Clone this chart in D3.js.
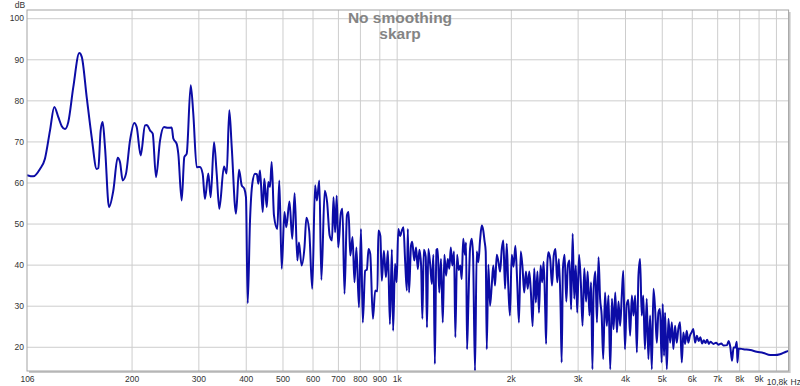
<!DOCTYPE html>
<html>
<head>
<meta charset="utf-8">
<script src="https://cdn.jsdelivr.net/npm/d3@7"></script>
<style>
  body { margin: 0; background: #fff; }
  svg { display: block; font-family: "Liberation Sans", Arial, sans-serif; }
</style>
</head>
<body>
<script>
const lowBand = [
  [106, 61.8], [110.1, 61.5], [114.7, 63.3], [118.2, 65.8], [121.9, 72.7], [125.1, 78.4],
  [128.2, 75.9], [130.9, 73.7], [133.5, 73.0], [136.2, 74.7], [140.4, 83.2], [145.6, 91.5],
  [147.8, 90.6], [152.3, 80.8], [157, 71], [161.8, 63.3], [163.4, 63.5], [165.8, 72.7],
  [167.8, 74.7], [170.2, 68.6], [174.4, 54], [179, 58], [183.8, 66], [186.4, 65],
  [189.5, 60.5], [193.3, 62.1], [198.1, 70.2], [203.3, 74.5], [206.3, 73.5], [211.4, 66.6],
  [217, 73.9], [219.6, 74], [223.7, 72.7], [227.4, 71.9], [232, 61.3], [237.7, 70.2],
  [243.5, 73.5], [249.5, 73.3], [255.2, 73.4], [257.7, 70.7], [263, 69.4], [265.6, 67],
  [271.1, 55.6], [275.5, 66.2], [279.5, 67], [286.4, 83.7], [290.9, 76.8], [297, 63.7],
  [303, 63.8], [308, 62.1], [312.3, 56], [318.7, 62.2], [323.3, 56.4], [329.9, 69.8],
  [335.3, 62.2], [340.7, 53.6], [350.5, 63.9], [356.3, 62.2], [362, 77.6], [367.3, 68.8],
  [377, 52.4], [384, 63.1], [390.3, 59.3], [396.5, 58.5], [400.6, 56.4], [404.8, 30.6],
  [410.5, 50.7], [416.3, 59.7], [423.1, 62.1], [428, 62], [431.7, 59.7], [436.2, 62.9],
  [443.4, 52.8], [447.7, 60.9], [454.3, 54], [458.7, 60.1], [463.5, 58.9], [468.2, 65],
  [474.8, 52], [484.5, 48.7], [490.4, 60.5], [497.6, 39]
];

const midBand = [
  [506, 52.8], [511.6, 49.1], [521.6, 55.4], [530.6, 46.3], [538.2, 57.4], [547.2, 41],
  [552.5, 45.4], [561.5, 39.8], [571.4, 44.2], [578.1, 51.4], [588, 48.3], [599, 34.1],
  [609.4, 59.3], [616.1, 55.6], [625.2, 60.5], [633.1, 36.3], [646.1, 58], [655.5, 55.2],
  [665.7, 47.1], [675.2, 45.9], [681.5, 56.4], [688.2, 47.9], [694.9, 56.8], [701.4, 44.2],
  [712.3, 52.4], [719.5, 53.6], [728.6, 32.9], [739.5, 52], [746.8, 52.8], [754.5, 42.2],
  [765, 46.7], [774.1, 35.7], [783.2, 44.2], [795.5, 29.6], [805.2, 48.7], [814, 25.9],
  [825.9, 38.5], [834.7, 38.8], [843, 43.8], [851.8, 42.6], [865.8, 26.8], [877.7, 33.7],
  [889.6, 33.5], [894.8, 48.3], [905.7, 47], [913.8, 36.1], [925.3, 43.4], [936.8, 36.9],
  [948.3, 43.4], [959.8, 25.5], [971.3, 43.7], [978.7, 23.9], [990.2, 40.2]
];

const kiloBand = [
  [1000, 35.7], [1010, 48.7], [1021, 47], [1032, 48.3], [1042, 49.1], [1053, 40.6],
  [1064, 33.7], [1070, 48.7], [1078, 33.2], [1091, 44.6], [1099, 45.6], [1113, 41],
  [1125, 44.2], [1137, 38.9], [1148, 43.6], [1160, 39.8], [1169, 26.8], [1179, 43.6],
  [1193, 41.9], [1202, 24.7], [1212, 43.8], [1227, 39.5], [1238, 35.3], [1250, 42.4],
  [1261, 15.8], [1273, 43.6], [1283, 43.8], [1295, 33.2], [1309, 41.4], [1323, 25.9],
  [1336, 42.4], [1350, 37.3], [1364, 41.4], [1377, 39], [1389, 44.2], [1402, 39.8],
  [1417, 43.2], [1428, 22.3], [1443, 42.4], [1458, 38.7], [1472, 39.8], [1484, 36.5],
  [1498, 46.3], [1514, 42.4], [1524, 45.4], [1533, 19.4], [1545, 30], [1561, 43.8],
  [1577, 46.3], [1590, 42.4], [1609, 14.1], [1626, 43.2], [1642, 40.6], [1659, 45.9],
  [1676, 49.5], [1692, 48.3], [1704, 45.9], [1717, 43.2], [1728, 19.4], [1745, 40],
  [1763, 30], [1781, 34.9], [1798, 39.8], [1817, 34.9], [1836, 42.4], [1854, 40.8],
  [1874, 38.3], [1893, 43.8], [1911, 45.9], [1931, 34.1], [1951, 45.1], [1969, 34.9],
  [1989, 27.6]
];

const trebleBand = [
  [2011, 42.4], [2033, 39.5], [2056, 44.6], [2079, 35.7], [2101, 25.9], [2124, 43.2],
  [2148, 39.1], [2169, 33.2], [2192, 38.3], [2216, 34.1], [2237, 38.3], [2260, 33],
  [2283, 25], [2305, 39.1], [2328, 30.8], [2351, 38.3], [2373, 28.3], [2396, 39.8],
  [2419, 35.7], [2441, 40.7], [2464, 29.1], [2478, 20.7], [2495, 39.8], [2512, 43],
  [2540, 41.4], [2568, 34.9], [2595, 42.2], [2623, 43.8], [2651, 35.7], [2678, 41.4],
  [2706, 29.1], [2723, 16.2], [2744, 39.1], [2772, 42.4], [2801, 31], [2828, 39.8],
  [2856, 41], [2884, 29.1], [2911, 47.5], [2939, 31.7], [2967, 39.8], [2993, 28.3],
  [3026, 42.4], [3059, 35.7], [3091, 25.1], [3124, 39.1], [3158, 31], [3189, 38.3],
  [3223, 27.6], [3256, 35.7], [3282, 14.5], [3307, 34.1], [3341, 38.3], [3374, 25.9],
  [3406, 41.8], [3439, 31.7], [3472, 27.6], [3505, 17], [3543, 33.2], [3582, 25.1],
  [3618, 32.5], [3657, 14.5], [3695, 31.7], [3732, 24.3], [3770, 33.2], [3809, 23.5],
  [3845, 31], [3884, 25.1], [3923, 32.5], [3959, 38.5], [3998, 19.4], [4041, 30.2],
  [4082, 31.4], [4126, 22.7], [4170, 32.5], [4211, 27.6], [4255, 32.5], [4299, 18.6],
  [4340, 37.3], [4384, 41.4], [4427, 27.6], [4469, 32.5], [4514, 19.4], [4564, 31.7],
  [4610, 17], [4659, 27.6], [4708, 14.5], [4754, 34.1], [4803, 29.1], [4852, 21],
  [4899, 28.3], [4948, 29.2], [4997, 16.2]
];

const airBand = [
  [5029, 30.4], [5070, 17.8], [5102, 28.3], [5156, 14.5], [5207, 26.8], [5261, 21],
  [5315, 26], [5366, 19.4], [5420, 25.1], [5475, 21], [5528, 24.3], [5587, 26],
  [5646, 16.2], [5701, 23.5], [5760, 20.7], [5819, 23.9], [5875, 21], [5934, 22.7],
  [5993, 23.5], [6055, 24.3], [6122, 21], [6190, 22.7], [6253, 21.4], [6320, 22.3],
  [6387, 20.8], [6454, 21.6], [6521, 20.9], [6588, 21.7], [6652, 20.7], [6719, 21.2],
  [6850, 20.7], [6953, 21], [7050, 20.5], [7173, 20.8], [7277, 20.3], [7432, 20.4],
  [7505, 21.4], [7582, 19.9], [7659, 16.6], [7732, 19.8], [7809, 19.8], [7886, 21.2],
  [7914, 16.2], [7977, 19.6], [8211, 19.4], [8557, 19.2], [8902, 18.8], [9270, 18.5],
  [9655, 18], [9943, 18], [10252, 18.2], [10630, 18.8], [10800, 19.0]
];

const xTickValues = [106, 200, 300, 400, 500, 600, 700, 800, 900, 1000, 2000, 3000, 4000, 5000, 6000, 7000, 8000, 9000];
const xTickLabels = ["106", "200", "300", "400", "500", "600", "700", "800", "900", "1k", "2k", "3k", "4k", "5k", "6k", "7k", "8k", "9k"];
const xGridValues = [200, 300, 400, 500, 600, 700, 800, 900, 1000, 2000, 3000, 4000, 5000, 6000, 7000, 8000, 9000, 10000];
const yTickValues = [20, 30, 40, 50, 60, 70, 80, 90, 100];

const w = 800;
const h = 386;
const padLeft = 27, padRight = 788.6, padTop = 10, padBottom = 371;

const dataset = [].concat(lowBand, midBand, kiloBand, trebleBand, airBand);

const xScale = d3.scaleLog().domain([106, 10800]).range([padLeft, padRight]);
const yScale = d3.scaleLinear().domain([14.1, 102]).range([padBottom, padTop]);

const svg = d3.select("body").append("svg")
  .attr("width", w)
  .attr("height", h);

// frame + shadow
svg.append("rect")
  .attr("x", padLeft + 2).attr("y", padTop + 2)
  .attr("width", padRight - padLeft).attr("height", padBottom - padTop)
  .attr("fill", "#c8c8c8");
svg.append("rect")
  .attr("x", padLeft).attr("y", padTop)
  .attr("width", padRight - padLeft).attr("height", padBottom - padTop)
  .attr("fill", "#fff");

// gridlines
const xGrid = svg.append("g")
  .attr("transform", "translate(0," + padBottom + ")")
  .call(d3.axisBottom(xScale).tickValues(xGridValues).tickSize(-(padBottom - padTop)).tickFormat(""));
const yGrid = svg.append("g")
  .attr("transform", "translate(" + padLeft + ",0)")
  .call(d3.axisLeft(yScale).tickValues(yTickValues).tickSize(-(padRight - padLeft)).tickFormat(""));
[xGrid, yGrid].forEach((g) => {
  g.select(".domain").remove();
  g.selectAll("line").attr("stroke", "#cdcdcd").attr("stroke-width", 1);
});

// title
svg.append("text")
  .attr("x", 400).attr("y", 22.5)
  .attr("text-anchor", "middle")
  .attr("font-size", "15.5px").attr("font-weight", "bold")
  .attr("fill", "#848484")
  .text("No smoothing");
svg.append("text")
  .attr("x", 400).attr("y", 39)
  .attr("text-anchor", "middle")
  .attr("font-size", "15.5px").attr("font-weight", "bold")
  .attr("fill", "#848484")
  .text("skarp");

// response curve
svg.append("clipPath").attr("id", "plot-clip")
  .append("rect")
  .attr("x", padLeft).attr("y", padTop)
  .attr("width", padRight - padLeft).attr("height", padBottom - padTop);

const line = d3.line()
  .x((d) => xScale(d[0]))
  .y((d) => yScale(d[1]))
  .curve(d3.curveMonotoneX);

svg.append("path")
  .datum(dataset)
  .attr("clip-path", "url(#plot-clip)")
  .attr("fill", "none")
  .attr("stroke", "#0c0ca6")
  .attr("stroke-width", 2)
  .attr("stroke-linejoin", "round")
  .attr("d", line);

// border
svg.append("rect")
  .attr("x", padLeft).attr("y", padTop)
  .attr("width", padRight - padLeft).attr("height", padBottom - padTop)
  .attr("fill", "none")
  .attr("stroke", "#a4a4a4")
  .attr("stroke-width", 1);

// axes labels
const xAxis = svg.append("g")
  .attr("transform", "translate(0," + padBottom + ")")
  .call(d3.axisBottom(xScale).tickValues(xTickValues).tickSize(0).tickPadding(5)
    .tickFormat((d, i) => xTickLabels[i]));
const yAxis = svg.append("g")
  .attr("transform", "translate(" + padLeft + ",0)")
  .call(d3.axisLeft(yScale).tickValues(yTickValues).tickSize(0).tickPadding(3));
[xAxis, yAxis].forEach((g) => {
  g.select(".domain").remove();
  g.selectAll("text")
    .attr("fill", "#333")
    .attr("font-size", "8.5px")
    .attr("font-family", "'Liberation Sans', Arial, sans-serif");
});

svg.append("text")
  .attr("x", padRight - 1).attr("y", padBottom + 13.5)
  .attr("text-anchor", "end")
  .attr("font-size", "8.5px").attr("fill", "#333")
  .text("10,8k");
svg.append("text")
  .attr("x", padRight + 2).attr("y", padBottom + 13.5)
  .attr("font-size", "8.5px").attr("fill", "#333")
  .text("Hz");
svg.append("text")
  .attr("x", 20).attr("y", 8)
  .attr("text-anchor", "middle")
  .attr("font-size", "8.5px").attr("fill", "#333")
  .text("dB");
</script>
</body>
</html>
